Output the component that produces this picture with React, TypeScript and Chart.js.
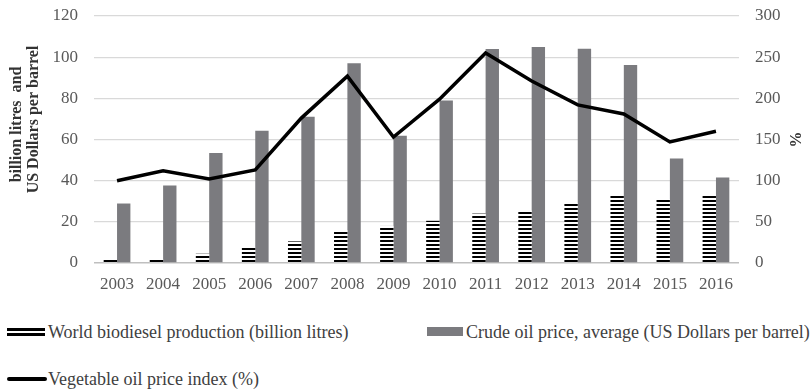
import React, { useEffect, useRef } from "react";
import { Chart, registerables } from "chart.js";

Chart.register(...registerables);

const years = ["2003","2004","2005","2006","2007","2008","2009","2010","2011","2012","2013","2014","2015","2016"];
const biodiesel = [1.5, 2, 4.5, 7.5, 10.5, 16, 18, 20.5, 24, 25.5, 29, 32.5, 31, 33];
const crudeOil = [28.9, 37.7, 53.4, 64.3, 71.1, 97.0, 61.8, 79.0, 104.0, 105.0, 104.1, 96.2, 50.8, 41.5];
const vegOilIndex = [100, 112, 102, 113, 176, 227, 153, 199, 255, 221, 192, 181, 147, 160];

const labelBio = "World biodiesel production (billion litres)";
const labelCrude = "Crude oil price, average (US Dollars per barrel)";
const labelVeg = "Vegetable oil price index (%)";
const leftTitle = ["billion litres  and", "US Dollars per barrel"];
const rightTitle = "%";

const FONT = "'Liberation Serif', 'Times New Roman', serif";
const GREY = "#7b7b7f";

function makeStripes(): CanvasPattern | string {
  const c = document.createElement("canvas");
  c.width = 4;
  c.height = 4;
  const ctx = c.getContext("2d");
  if (!ctx) return "#000";
  ctx.fillStyle = "#ffffff";
  ctx.fillRect(0, 0, 4, 4);
  ctx.fillStyle = "#000000";
  ctx.fillRect(0, 0, 4, 2);
  const p = ctx.createPattern(c, "repeat");
  return p || "#000";
}

const axisTitlesPlugin = {
  id: "axisTitles",
  afterDraw(chart: any) {
    const ctx = chart.ctx;
    const area = chart.chartArea;
    const mid = (area.top + area.bottom) / 2;
    ctx.save();
    ctx.fillStyle = "#333";
    ctx.font = `bold 16px ${FONT}`;
    ctx.textAlign = "center";
    ctx.textBaseline = "middle";
    const pos = [
      { x: 17, y: mid - 15 },
      { x: 34, y: mid - 20 },
    ];
    leftTitle.forEach((t, i) => {
      ctx.save();
      ctx.translate(pos[i].x, pos[i].y);
      ctx.rotate(-Math.PI / 2);
      ctx.fillText(t, 0, 0);
      ctx.restore();
    });
    ctx.save();
    ctx.translate(797, mid);
    ctx.rotate(-Math.PI / 2);
    ctx.fillText(rightTitle, 0, 0);
    ctx.restore();
    ctx.restore();
  },
};

export default function App() {
  const ref = useRef<HTMLCanvasElement>(null);
  useEffect(() => {
    if (!ref.current) return;
    const stripes = makeStripes();
    const chart = new Chart(ref.current, {
      type: "bar",
      data: {
        labels: years,
        datasets: [
          {
            type: "line",
            label: labelVeg,
            data: vegOilIndex,
            yAxisID: "y1",
            borderColor: "#000",
            borderWidth: 3.5,
            pointRadius: 0,
            tension: 0,
            order: 0,
          } as any,
          {
            type: "bar",
            label: labelBio,
            data: biodiesel,
            yAxisID: "y",
            backgroundColor: stripes as any,
            borderWidth: 0,
            categoryPercentage: 0.58,
            barPercentage: 1.0,
            order: 1,
          },
          {
            type: "bar",
            label: labelCrude,
            data: crudeOil,
            yAxisID: "y",
            backgroundColor: GREY,
            borderWidth: 0,
            categoryPercentage: 0.58,
            barPercentage: 1.0,
            order: 1,
          },
        ],
      },
      options: {
        responsive: true,
        maintainAspectRatio: false,
        animation: false,
        layout: { padding: { top: 16, left: 0, right: 0, bottom: 0 } },
        plugins: {
          legend: { display: false },
          tooltip: { enabled: false },
        },
        scales: {
          x: {
            grid: { display: false, drawTicks: false },
            border: { display: false },
            ticks: { color: "#595959", font: { family: FONT, size: 17 }, padding: 11, maxRotation: 0 },
            afterFit: (s: any) => { s.height = 37; },
          },
          y: {
            position: "left",
            min: 0,
            max: 120,
            ticks: { stepSize: 20, color: "#595959", font: { family: FONT, size: 17 }, padding: 0 },
            grid: {
              drawTicks: true,
              tickLength: 16,
              tickColor: "rgba(0,0,0,0)",
              color: (ctx: any) => (ctx.tick && ctx.tick.value === 0 ? "#bfbfbf" : "#d9d9d9"),
              lineWidth: (ctx: any) => (ctx.tick && ctx.tick.value === 0 ? 1.5 : 1.2),
            },
            border: { display: false },
            afterFit: (s: any) => { s.width = 94; },
          },
          y1: {
            position: "right",
            min: 0,
            max: 300,
            ticks: { stepSize: 50, color: "#595959", font: { family: FONT, size: 17 }, padding: 0 },
            grid: { display: false, drawTicks: true, tickLength: 16, tickColor: "rgba(0,0,0,0)" },
            border: { display: false },
            afterFit: (s: any) => { s.width = 72; },
          },
        },
      },
      plugins: [axisTitlesPlugin],
    });
    return () => chart.destroy();
  }, []);

  const textStyle: React.CSSProperties = {
    position: "absolute",
    fontFamily: FONT,
    fontSize: 18,
    color: "#404040",
    whiteSpace: "nowrap",
    lineHeight: "20px",
  };

  return (
    <div style={{ position: "absolute", left: 0, top: 0, width: 811, height: 391, background: "#fff" }}>
      <div style={{ position: "absolute", left: 0, top: 0, width: 811, height: 300 }}>
        <canvas ref={ref} />
      </div>
      {/* legend item 1 */}
      <div style={{ position: "absolute", left: 7, top: 328, width: 38, height: 3, background: "#000" }} />
      <div style={{ position: "absolute", left: 7, top: 333, width: 38, height: 3, background: "#000" }} />
      <div style={{ ...textStyle, left: 48, top: 322 }}>{labelBio}</div>
      {/* legend item 2 */}
      <div style={{ position: "absolute", left: 427, top: 327, width: 36, height: 9, background: GREY }} />
      <div style={{ ...textStyle, left: 466, top: 322 }}>{labelCrude}</div>
      {/* legend item 3 */}
      <div style={{ position: "absolute", left: 7, top: 377, width: 40, height: 4, background: "#000", borderRadius: 2 }} />
      <div style={{ ...textStyle, left: 48, top: 369 }}>{labelVeg}</div>
    </div>
  );
}
